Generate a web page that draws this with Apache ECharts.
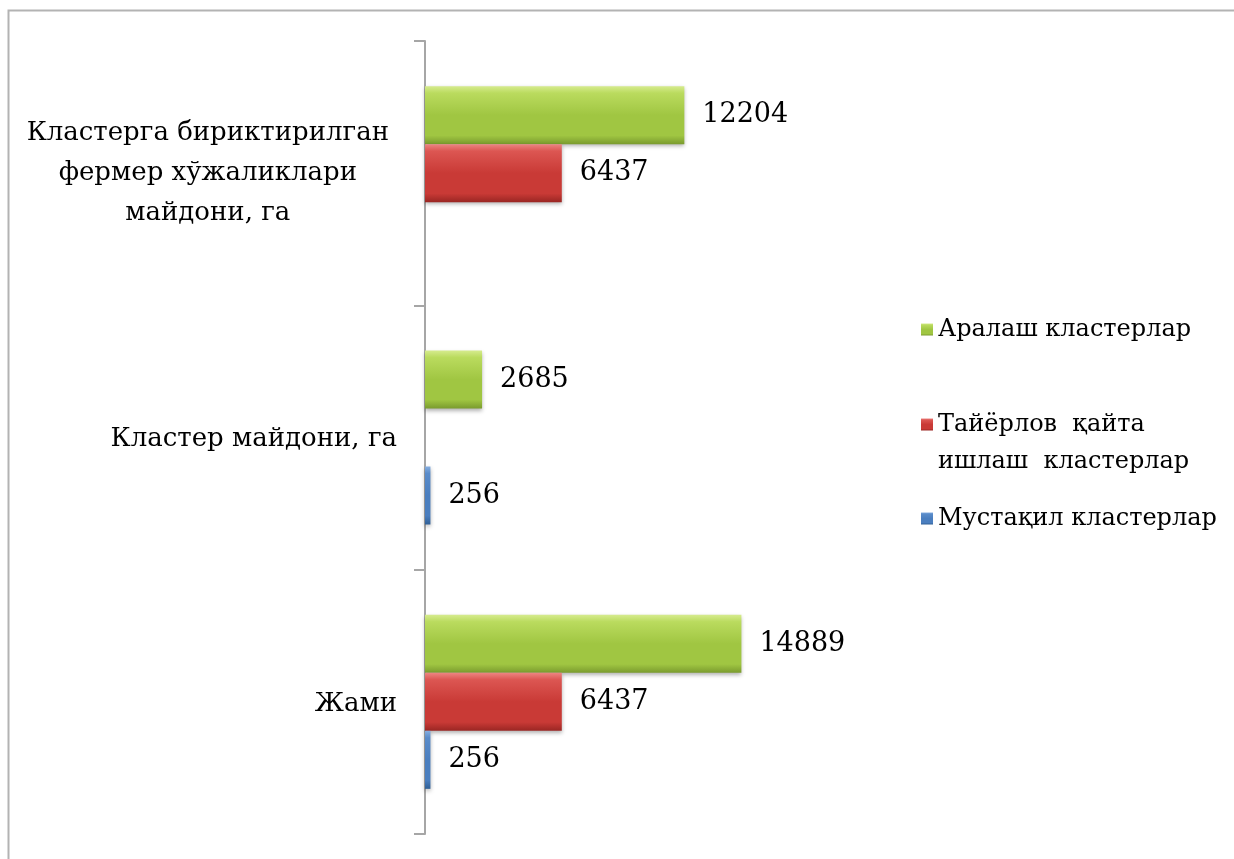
<!DOCTYPE html>
<html>
<head>
<meta charset="utf-8">
<script src="https://cdn.jsdelivr.net/npm/echarts@6/dist/echarts.min.js"></script>
<style>
  html, body { margin: 0; padding: 0; background: #fff; }
  #chart { width: 1234px; height: 859px; }
</style>
</head>
<body>
<div id="chart"></div>
<script>
// категориялар (юқоридан пастга)
var categories = ['Кластерга бириктирилган\nфермер хўжаликлари\nмайдони, га', 'Кластер майдони, га', 'Жами']
var seriesNames = ['Аралаш кластерлар', 'Тайёрлов  қайта\nишлаш  кластерлар', 'Мустақил кластерлар']
var aralash = [12204, 2685, 14889]
var tayyorlov = [6437, null, 6437]
var mustaqil = [null, 256, 256]

var font = 'DejaVu Serif'

function grad(top, light, base, dark) {
  return new echarts.graphic.LinearGradient(0, 0, 0, 1, [
    { offset: 0, color: top },
    { offset: 0.12, color: light },
    { offset: 0.5, color: base },
    { offset: 0.85, color: base },
    { offset: 1, color: dark }
  ])
}

var colors = [
  grad('#d6eb8e', '#badb5e', '#a0c642', '#7a9b2e'),
  grad('#ec8582', '#dc5652', '#c93a36', '#9a2623'),
  grad('#86aee0', '#5a8cca', '#4a7ebf', '#2f5f95')
]

function makeSeries(name, values, i) {
  return {
    name: name,
    type: 'bar',
    barWidth: 58,
    barGap: '0%',
    data: values,
    itemStyle: {
      color: colors[i],
      shadowColor: 'rgba(0,0,0,0.3)',
      shadowBlur: 4,
      shadowOffsetY: 2
    },
    label: {
      show: true,
      position: 'right',
      distance: 18,
      fontFamily: font,
      fontSize: 27,
      color: '#000'
    }
  }
}

// легенда: ҳар бир элемент алоҳида, иккинчи қаторли матн алоҳида чизилади
var legendTops = [311, 406, 500]
var legends = seriesNames.map(function (n, i) {
  return {
    data: [n],
    left: 921,
    top: legendTops[i],
    padding: 0,
    icon: 'rect',
    itemWidth: 12,
    itemHeight: 12,
    selectedMode: false,
    formatter: function (name) { return name.split('\n')[0] },
    textStyle: {
      fontFamily: font,
      fontSize: 24,
      color: '#000',
      lineHeight: 37
    }
  }
})

var option = {
  animation: false,
  backgroundColor: '#fff',
  graphic: [{
    type: 'rect',
    shape: { x: 8.5, y: 10.5, width: 1300, height: 900 },
    style: { fill: 'none', stroke: '#b3b3b3', lineWidth: 2 },
    silent: true
  }, {
    type: 'text',
    left: 938,
    top: 450,
    style: { text: seriesNames[1].split('\n')[1], font: '24px "DejaVu Serif"', fill: '#000' },
    silent: true
  }],
  legend: legends,
  grid: { left: 425, top: 41, width: 340, height: 793 },
  xAxis: {
    type: 'value',
    min: 0,
    max: 16000,
    show: false
  },
  yAxis: {
    type: 'category',
    inverse: true,
    data: categories,
    axisLine: { show: true, lineStyle: { color: '#a6a6a6', width: 2 } },
    axisTick: { show: true, length: 11, lineStyle: { color: '#a6a6a6', width: 2 } },
    axisLabel: {
      margin: 28,
      color: '#000',
      formatter: function (v) {
        var st = v.indexOf('\n') >= 0 ? 'm' : 'c'
        return v.split('\n').map(function (s) { return '{' + st + '|' + s + '}' }).join('\n')
      },
      rich: {
        c: { align: 'center', fontFamily: font, fontSize: 26, lineHeight: 40, color: '#000', padding: [4, 0, 0, 0] },
        m: { align: 'center', fontFamily: font, fontSize: 26, lineHeight: 40, color: '#000', padding: [0, 8, 0, 0] }
      }
    },
    splitLine: { show: false }
  },
  series: [
    makeSeries(seriesNames[0], aralash, 0),
    makeSeries(seriesNames[1], tayyorlov, 1),
    makeSeries(seriesNames[2], mustaqil, 2)
  ]
}

var chartObj = echarts.init(document.getElementById('chart'))
chartObj.setOption(option)
</script>
</body>
</html>
